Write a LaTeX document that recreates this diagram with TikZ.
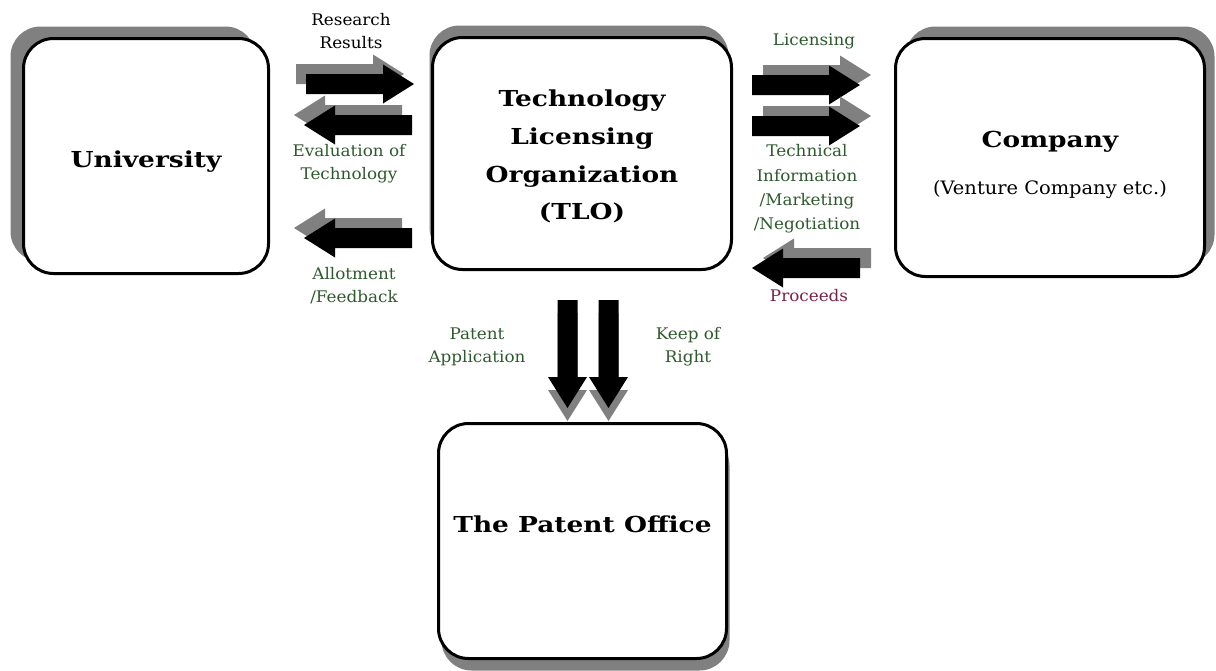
\documentclass[tikz,border=0pt]{standalone}
\usepackage{fontspec}
\setmainfont{DejaVu Serif}[FakeStretch=1.05]
\newfontfamily\grasfont{DejaVu Serif}[FakeStretch=1.2]
\usetikzlibrary{calc,shadows}

\definecolor{vertfonce}{RGB}{45,90,45}
\definecolor{bordeaux}{RGB}{120,35,70}
\definecolor{ombre}{RGB}{128,128,128}

\tikzset{
	boite/.style={draw, line width=3pt, rounded corners=30pt, fill=white, align=center, inner sep=0pt, font=\grasfont\bfseries\fontsize{22}{37.7}\selectfont},
	etiquette/.style={align=center, inner sep=0pt, text=vertfonce, font=\fontsize{16}{23}\selectfont},
	pics/fleche bloc/.style={code={
		\fill (0,-10) -- (77,-10) -- (77,-19.5) -- (108,0) -- (77,19.5) -- (77,10) -- (0,10) -- cycle;
	}},
}

%#1: queue de la fleche, #2: angle, #3: decalage de l'ombre
\newcommand{\flechebloc}[3]{%
	\pic[color=ombre, rotate=#2] at ($(#1)+#3$) {fleche bloc};
	\pic[color=black, rotate=#2] at (#1) {fleche bloc};
}

\begin{document}
\begin{tikzpicture}[x=1pt, y=-1pt]
		\useasboundingbox (0,0) rectangle (1216,670);

		%\node (nom node) at(x,y) [options] {affichage} ;
		\node (universite) at(146, 156) [boite, minimum width=245pt, minimum height=235pt, text height=22pt, text depth=0pt, general shadow={fill=ombre, shadow xshift=-13pt, shadow yshift=12pt}] {University} ;
		\node (tlo) at(582, 153.5) [boite, minimum width=299pt, minimum height=232pt, general shadow={fill=ombre, shadow xshift=-3pt, shadow yshift=12pt}] {\rule{0pt}{23pt}Technology\\Licensing\\Organization\\(TLO)} ;
		\node (entreprise) at(1050, 157.5) [boite, minimum width=309pt, minimum height=238pt, general shadow={fill=ombre, shadow xshift=10pt, shadow yshift=12pt}] {\rule{0pt}{30.4pt}Company\\[9.3pt]{\normalfont\fontsize{18.5}{20}\selectfont (Venture Company etc.)}} ;
		\node (brevets) at(582.5, 541) [boite, minimum width=288pt, minimum height=235pt, text height=0pt, text depth=18pt, general shadow={fill=ombre, shadow xshift=3pt, shadow yshift=-12pt}] {The Patent Office} ;

%queues des grosses fleches
		\coordinate (f resultats) at (306, 84);
		\coordinate (f evaluation) at (412, 125);
		\coordinate (f repartition) at (412, 238);
		\coordinate (f licence) at (752, 85);
		\coordinate (f info) at (752, 126);
		\coordinate (f produits) at (860, 268);
		\coordinate (f demande) at (567.5, 300);
		\coordinate (f droit) at (608.5, 300);

		\flechebloc{f resultats}{0}{(-10,-10)}
		\flechebloc{f evaluation}{180}{(-10,-10)}
		\flechebloc{f repartition}{180}{(-10,-10)}
		\flechebloc{f licence}{0}{(11,-10)}
		\flechebloc{f info}{0}{(11,-10)}
		\flechebloc{f produits}{180}{(11,-10)}
		\flechebloc{f demande}{-90}{(0,13)}
		\flechebloc{f droit}{-90}{(0,13)}

%textes des fleches
		\node (l resultats) at(351, 31) [etiquette, text=black] {Research\\Results} ;
		\node (l evaluation) at(349, 164) [etiquette] {Evaluation of\\Technology} ;
		\node (l repartition) at(354, 285.5) [etiquette] {Allotment\\/Feedback} ;
		\node (l licence) at(814, 41) [etiquette] {Licensing} ;
		\node (l info) at(807, 189) [etiquette, font=\fontsize{16}{24.3}\selectfont] {Technical\\Information\\/Marketing\\/Negotiation} ;
		\node (l produits) at(809, 296) [etiquette, text=bordeaux] {Proceeds} ;
		\node (l demande) at(477, 347) [etiquette] {Patent\\Application} ;
		\node (l droit) at(688, 347) [etiquette] {Keep of\\Right} ;
	\end{tikzpicture}
\end{document}
